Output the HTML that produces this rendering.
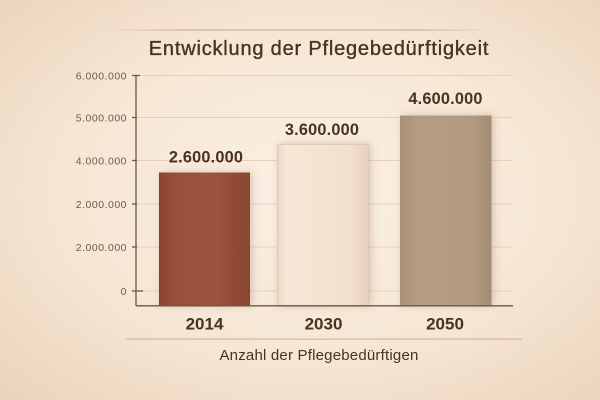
<!DOCTYPE html>
<html><head><meta charset="utf-8"><style>
html,body{margin:0;padding:0;}
body{width:600px;height:400px;overflow:hidden;background:#f3e2cf;}
svg{display:block;}
text{font-family:"Liberation Sans",sans-serif;}
</style></head><body>
<svg width="600" height="400" viewBox="0 0 600 400" xmlns="http://www.w3.org/2000/svg">
<defs>
<radialGradient id="bg" cx="0.52" cy="0.48" r="0.75">
<stop offset="0" stop-color="#faf0e4"/>
<stop offset="0.55" stop-color="#f6e6d4"/>
<stop offset="1" stop-color="#ead2b9"/>
</radialGradient>
<linearGradient id="topline" x1="0" x2="1">
<stop offset="0" stop-color="#d7b7a0" stop-opacity="0"/>
<stop offset="0.2" stop-color="#d2ae96"/>
<stop offset="0.8" stop-color="#d2ae96"/>
<stop offset="1" stop-color="#d7b7a0" stop-opacity="0"/>
</linearGradient>
<linearGradient id="b1" x1="0" x2="1">
<stop offset="0" stop-color="#85432f"/>
<stop offset="0.15" stop-color="#98503a"/>
<stop offset="0.6" stop-color="#9c553d"/>
<stop offset="1" stop-color="#8a4631"/>
</linearGradient>
<linearGradient id="b2" x1="0" x2="1">
<stop offset="0" stop-color="#ead7c3"/>
<stop offset="0.1" stop-color="#f6e7d7"/>
<stop offset="0.8" stop-color="#f2e0cd"/>
<stop offset="1" stop-color="#e6d1bc"/>
</linearGradient>
<linearGradient id="b3" x1="0" x2="1">
<stop offset="0" stop-color="#a88f75"/>
<stop offset="0.2" stop-color="#b59e84"/>
<stop offset="0.8" stop-color="#b29a80"/>
<stop offset="1" stop-color="#a48b71"/>
</linearGradient>
<filter id="sh" x="-30%" y="-10%" width="160%" height="120%">
<feDropShadow dx="2" dy="0" stdDeviation="4" flood-color="#7a5a3c" flood-opacity="0.28"/>
</filter>
</defs>
<rect width="600" height="400" fill="url(#bg)"/>

<!-- top decorative line -->
<rect x="100" y="29.5" width="400" height="1.2" fill="url(#topline)"/>

<!-- title -->
<text x="319" y="55" text-anchor="middle" font-size="20" letter-spacing="0.8" fill="#4a3120" stroke="#4a3120" stroke-width="0.35">Entwicklung der Pflegebedürftigkeit</text>

<!-- gridlines -->
<g stroke="#e9cfbf" stroke-width="1">
<line x1="137" y1="75.5" x2="513" y2="75.5"/>
<line x1="137" y1="117.5" x2="513" y2="117.5"/>
<line x1="137" y1="160.5" x2="513" y2="160.5"/>
<line x1="137" y1="204" x2="513" y2="204"/>
<line x1="137" y1="247" x2="513" y2="247"/>
<line x1="137" y1="291" x2="513" y2="291"/>
</g>

<!-- bars -->
<rect x="159" y="172.5" width="91" height="133" fill="url(#b1)" filter="url(#sh)"/>
<rect x="277.5" y="144.5" width="91" height="161" fill="url(#b2)" stroke="#dcc6b0" stroke-width="0.8" filter="url(#sh)"/>
<rect x="400" y="115.5" width="91.5" height="190" fill="url(#b3)" filter="url(#sh)"/>

<!-- axes -->
<g stroke="#6b5747" stroke-width="1.3">
<line x1="136" y1="75" x2="136" y2="306"/>
<line x1="136" y1="305.8" x2="513" y2="305.8"/>
<line x1="132" y1="75.5" x2="140" y2="75.5"/>
<line x1="132" y1="117.5" x2="137" y2="117.5"/>
<line x1="132" y1="160.5" x2="137" y2="160.5"/>
<line x1="132" y1="204" x2="137" y2="204"/>
<line x1="132" y1="247" x2="137" y2="247"/>
<line x1="132" y1="291" x2="143" y2="291"/>
</g>

<!-- tick labels -->
<g font-size="10.5" fill="#6e5a4a" text-anchor="end" letter-spacing="0.5">
<text x="127" y="79.3">6.000.000</text>
<text x="127" y="121.3">5.000.000</text>
<text x="127" y="164.3">4.000.000</text>
<text x="127" y="207.8">2.000.000</text>
<text x="127" y="250.8">2.000.000</text>
<text x="127" y="294.8">0</text>
</g>

<!-- value labels -->
<g font-size="16.3" font-weight="bold" fill="#4a3120" text-anchor="middle" letter-spacing="0.2">
<text x="206" y="162.5">2.600.000</text>
<text x="322" y="135">3.600.000</text>
<text x="445.5" y="104">4.600.000</text>
</g>

<!-- x labels -->
<g font-size="17" font-weight="bold" fill="#4a3120" text-anchor="middle">
<text x="204.5" y="329.5">2014</text>
<text x="323.5" y="329.5">2030</text>
<text x="445" y="329.5">2050</text>
</g>

<!-- bottom line -->
<rect x="125" y="338.5" width="397" height="1.2" fill="#d4b6a0"/>

<!-- axis title -->
<text x="319" y="360" text-anchor="middle" font-size="15" letter-spacing="0.2" fill="#4a3120">Anzahl der Pflegebedürftigen</text>
</svg>
</body></html>
